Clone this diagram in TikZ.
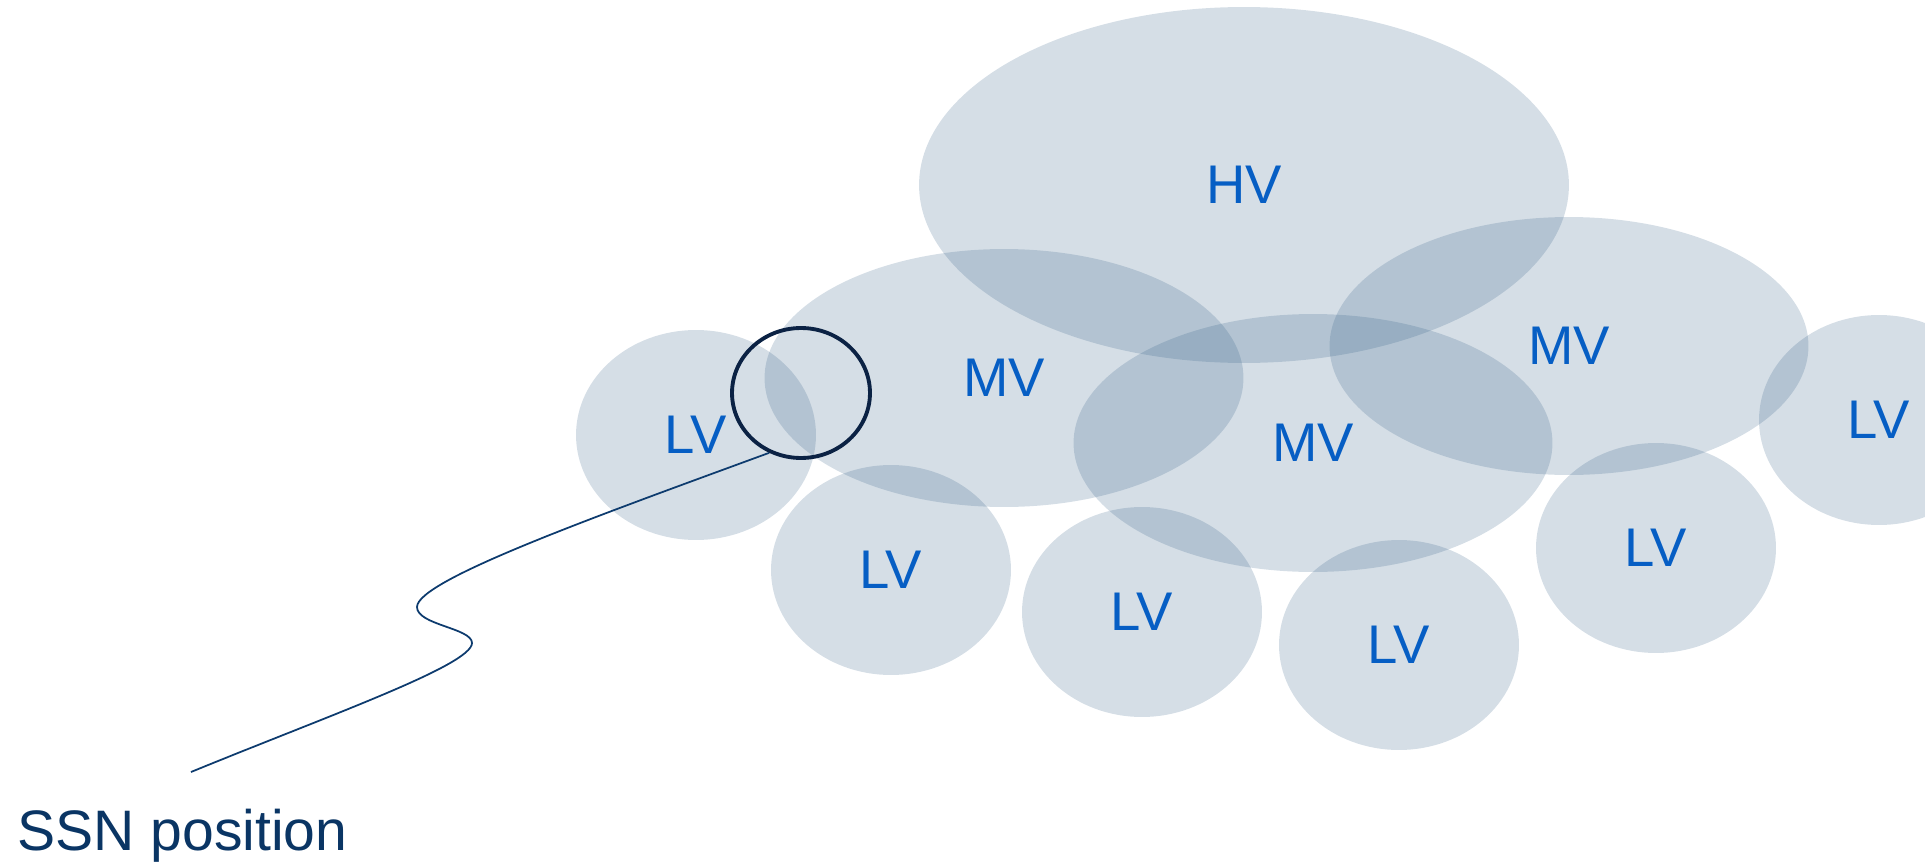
\documentclass[tikz,border=0pt]{standalone}
\usepackage{fontspec}
\setmainfont{Liberation Sans}
\usetikzlibrary{shapes.geometric}
\definecolor{zonefill}{RGB}{45,90,130}
\definecolor{zonetext}{RGB}{6,94,196}
\definecolor{ssnline}{RGB}{13,59,110}
\definecolor{ssnring}{RGB}{11,34,68}
\definecolor{ssntext}{RGB}{10,53,100}

\begin{document}
\begin{tikzpicture}[x=0.02cm,y=-0.02cm,
  zone/.style={ellipse,inner sep=0pt,fill=zonefill,fill opacity=0.2,text opacity=1,
    text=zonetext,font=\fontsize{31}{37}\selectfont},
  hv/.style={zone,minimum width=13cm,minimum height=7.12cm},
  mv/.style={zone,minimum width=9.58cm,minimum height=5.16cm},
  lv/.style={zone,minimum width=4.8cm,minimum height=4.2cm}]
  \useasboundingbox (0,0) rectangle (1925,862);
  \node [hv] (hv) at (1244,185) {HV};
  \node [mv] (mvl) at (1004,378) {MV};
  \node [mv] (mvc) at (1313,443) {MV};
  \node [mv] (mvr) at (1569,346) {MV};
  \node [lv] (lva) at (696,435) {LV};
  \node [lv] (lvb) at (891,570) {LV};
  \node [lv] (lvc) at (1142,612) {LV};
  \node [lv] (lvd) at (1399,645) {LV};
  \node [lv] (lve) at (1656,548) {LV};
  \node [lv] (lvf) at (1879,420) {LV};
  \node [ellipse,draw=ssnring,line width=2.2pt,inner sep=0pt,
    minimum width=2.76cm,minimum height=2.6cm] (ssn) at (801,393) {};
  \node [anchor=base west,inner sep=0pt,text=ssntext,font=\fontsize{32.5}{39}\selectfont]
    (ssnlabel) at (17,850) {SSN position};
  \coordinate (ssnend) at (191,772);
  \draw [ssnline,line width=1pt] (ssn.242) .. controls (600,515) and (417,580) .. (417,607)
    .. controls (417,625) and (472,628) .. (472,643)
    .. controls (472,665) and (330,715) .. (ssnend);
\end{tikzpicture}
\end{document}
